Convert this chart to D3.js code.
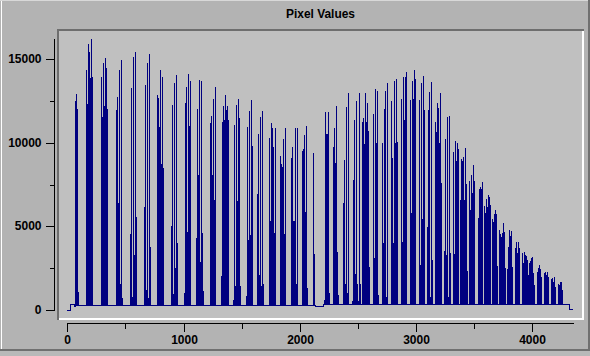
<!DOCTYPE html>
<html><head><meta charset="utf-8">
<script src="https://cdn.jsdelivr.net/npm/d3@7"></script>
<style>
html,body{margin:0;padding:0;background:#b3b3b3;overflow:hidden;}
svg{display:block;}
text{font-family:"Liberation Sans",Arial,Helvetica,sans-serif;font-weight:bold;fill:#000;}
</style></head><body>
<svg id="c" width="590" height="356"></svg>
<script>
// ---------- data ----------
const title = "Pixel Values";
const xTicks = [0, 1000, 2000, 3000, 4000];
const xMinor = [500, 1500, 2500, 3500];
const yTicks = [0, 5000, 10000, 15000];
const yMinor = [2500, 7500, 12500];
const xDomain = [0, 4360];
const yDomain = [0, 16200];
const colStep = 8.6; // data units between adjacent sample columns
// baseline level knots [x, value] (step)
const baseline = [[0,0],[26,340],[60,230],[73,290],[2132,190],[2207,320],[4317,10],[4352,10]];
// clusters of peaks: first column x, then column maxima
const clusterStart = [74.7,169,298,421,541,661,779,893,1007,1113,1228,1331,1431,1540,1637,1740,1834,1929,2023,2118,
  2212,2289,2375,2455,2544,2633,2710,2793,2873,2950,3028,3099,3171,3242,3322,3385,3457,3534,3594,3663,3723,3786,3857,3920,3980,4043,4106,4166,4224];
const clusterPeaks = [
  [12520,12920,1140],
  [14360,8735,15915,15436,13860,16214],
  [13960,5225,14800,9413,15100,14460],
  [11966,12770,6433,14360,1555,14950,700],
  [4546,13302,797,15160,3290,15436,5583],
  [6135,13480,1197,14760,740,15317,3790],
  [12864,12664,10970,14360,4686,13960],
  [5024,12260,960,13600,2490,14060,4030],
  [1000,12400,13360,4686,14120,11010,13720],
  [4290,12040,8080,13760,2890,13720,4590],
  [11170,11610,8080,12600,6590,13320],
  [2030,11270,12200,2090,12860,7190,12200],
  [600,11070,1400,12265,6537,12604,11468],
  [836,10970,4180,11925,4500,12560,9810],
  [6935,10530,2094,11570,1440,11925,1560],
  [10310,5348,11170,10870,9730,4590,10870],
  [9216,8737,8577,10210,4550,10870],
  [9117,9730,5348,5348,10870,1560,10870],
  [9530,9610,10470,5890,11010,1300],
  [9410,3380],
  [600,11860,10530,10530,11860,1000],
  [9770,10870,8820,12210,3490,900],
  [6420,8977,1560,12165,1000,13000],
  [564,7777,11370,2153,12525,1240,560,12960],
  [11270,11470,8940,12960,560,12365,2990],
  [11720,3090,13200,10010,13120,900],
  [10010,4030,12000,13120,800,13600],
  [12525,800,4030,13720,9810,13840],
  [12600,4090,13920,11370,13960,14240],
  [12560,5790,13720,12600,14360,13800],
  [12560,2690,13600,5430,14000,11970],
  [4990,11970,13070,800,13640,2990],
  [11270,10670,12360,12070,10010,12960],
  [3550,10210,3290,11530,800,11610,3390],
  [9470,3350,10110,8940,10010,9610],
  [6580,9020,8940,9140,6580,9670,7540],
  [7740,5990,8080,7000,8680,7740],
  [5490,7220,7380,7220,7680],
  [6220,1200,6620,5430,6880,6740],
  [5430,1000,5750,5990,2750],
  [4790,4550,4390,4590,5230,2800],
  [2430,3750,4790,4430,4750,2600],
  [3690,4090,3390,4090,3700],
  [3430,2790,3490,3290,3230,2990],
  [2830,2930,3090,3190,2190],
  [2290,2490,2690,2430,2000],
  [2190,2290,2090,2270,1990],
  [1830,1890,1690,1990,1400],
  [1560,1500,1690,1690,1200]
];

// ---------- drawing ----------
const W = 590, H = 356;
const svg = d3.select("#c");
const x = d3.scaleLinear().domain(xDomain).range([67.3, 574]);
const y = d3.scaleLinear().domain(yDomain).range([310, 39.3]);

// window panel
svg.append("rect").attr("x",0).attr("y",0).attr("width",W).attr("height",H).attr("fill","#b3b3b3");
svg.append("rect").attr("x",0).attr("y",351).attr("width",W).attr("height",5).attr("fill","#b9b9b9");
svg.append("rect").attr("x",0).attr("y",349).attr("width",W).attr("height",2).attr("fill","#707070");
svg.append("rect").attr("x",1).attr("y",0).attr("width",1).attr("height",349).attr("fill","#ffffff");
svg.append("rect").attr("x",0).attr("y",0).attr("width",588).attr("height",1).attr("fill","#d8d8d8");
svg.append("rect").attr("x",588).attr("y",0).attr("width",2).attr("height",351).attr("fill","#707070");

// plot frame (sunken)
svg.append("rect").attr("x",57).attr("y",29).attr("width",527).attr("height",291).attr("fill","#c0c0c0");
svg.append("rect").attr("x",57).attr("y",29).attr("width",527).attr("height",2).attr("fill","#6e6e6e");
svg.append("rect").attr("x",57).attr("y",29).attr("width",2).attr("height",291).attr("fill","#6e6e6e");
svg.append("rect").attr("x",59).attr("y",318).attr("width",525).attr("height",2).attr("fill","#ffffff");
svg.append("rect").attr("x",582).attr("y",31).attr("width",2).attr("height",289).attr("fill","#ffffff");

// title
svg.append("text").attr("x",320.5).attr("y",18.3).attr("text-anchor","middle")
  .style("font-size","13px").attr("textLength",69).attr("lengthAdjust","spacingAndGlyphs").text(title);

// y axis
const ya = svg.append("g").attr("shape-rendering","crispEdges");
ya.append("line").attr("x1",54.5).attr("x2",54.5).attr("y1",y(yDomain[1])).attr("y2",y(0)).attr("stroke","#000");
yTicks.forEach(t=>{
  const yy = Math.round(y(t))+0.5;
  ya.append("line").attr("x1",46).attr("x2",55).attr("y1",yy).attr("y2",yy).attr("stroke","#000");
  svg.append("text").attr("x",41.5).attr("y",yy+3.6).attr("text-anchor","end").style("font-size","12px").text(t);
});
yMinor.forEach(t=>{
  const yy = Math.round(y(t))+0.5;
  ya.append("line").attr("x1",49.5).attr("x2",55).attr("y1",yy).attr("y2",yy).attr("stroke","#000");
});

// x axis
const xa = svg.append("g").attr("shape-rendering","crispEdges");
xa.append("line").attr("x1",x(0)).attr("x2",x(xDomain[1])).attr("y1",323.5).attr("y2",323.5).attr("stroke","#000");
xTicks.forEach(t=>{
  const xx = Math.round(x(t))+0.5;
  xa.append("line").attr("x1",xx).attr("x2",xx).attr("y1",323).attr("y2",331.5).attr("stroke","#000");
  svg.append("text").attr("x",xx).attr("y",343.6).attr("text-anchor","middle").style("font-size","12px").text(t);
});
xMinor.forEach(t=>{
  const xx = Math.round(x(t))+0.5;
  xa.append("line").attr("x1",xx).attr("x2",xx).attr("y1",323).attr("y2",328.5).attr("stroke","#000");
});

// build trace from baseline + clusters
function baseAt(v){ let b = baseline[0][1]; for(const k of baseline){ if(k[0] <= v) b = k[1]; } return b; }
const pts = [];
baseline.forEach((k,i)=>{
  if(i>0) pts.push([k[0]-0.01, baseline[i-1][1]]);
  pts.push([k[0], k[1]]);
});
clusterStart.forEach((s,ci)=>{
  clusterPeaks[ci].forEach((m,i)=>{
    const xv = s + i*colStep;
    const b = baseAt(xv);
    pts.push([xv-0.05, b]);
    pts.push([xv, m]);
    pts.push([xv + colStep*0.45, b]);
  });
});
pts.sort((a,b)=>a[0]-b[0]);
const line = d3.line().x(d=>x(d[0])).y(d=>y(d[1]));
svg.append("path").datum(pts).attr("d",line).attr("fill","none")
  .attr("stroke","#000080").attr("stroke-width",1).attr("shape-rendering","crispEdges");
</script>
</body></html>
